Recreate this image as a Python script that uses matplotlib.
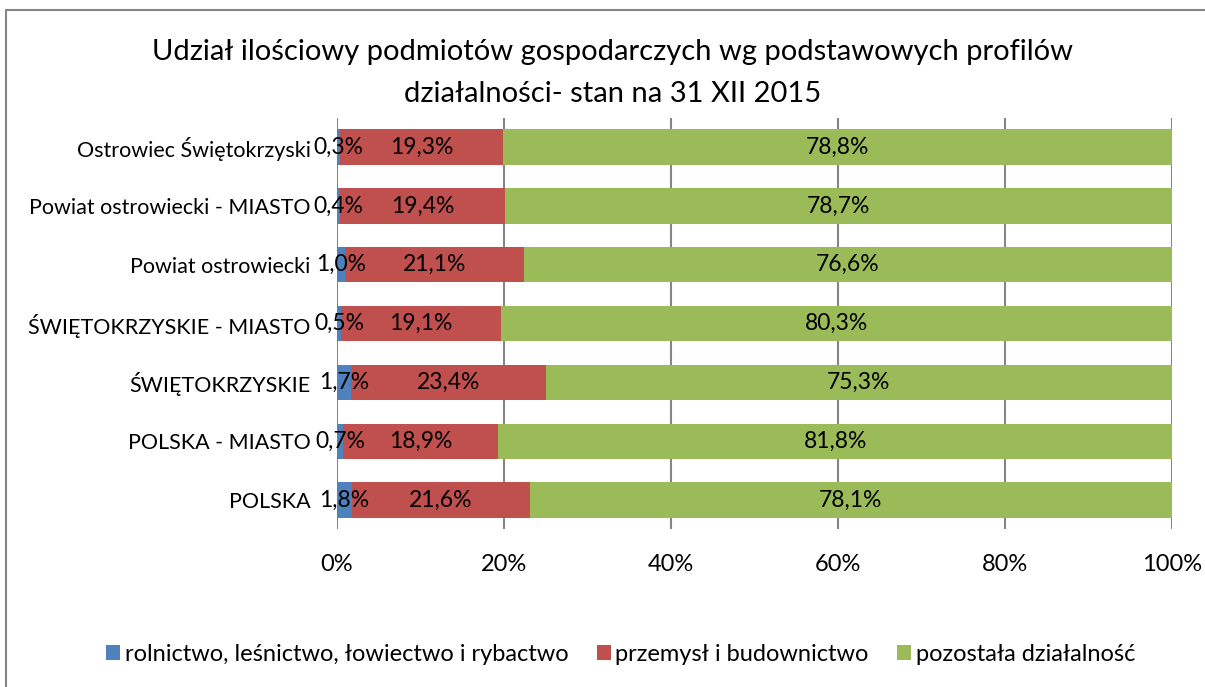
import matplotlib.pyplot as plt
from matplotlib.patches import Rectangle

plt.rcParams["font.family"] = ["Lato", "DejaVu Sans"]

categories = [
    "POLSKA",
    "POLSKA - MIASTO",
    "ŚWIĘTOKRZYSKIE",
    "ŚWIĘTOKRZYSKIE - MIASTO",
    "Powiat ostrowiecki",
    "Powiat ostrowiecki - MIASTO",
    "Ostrowiec Świętokrzyski",
]
rolnictwo = [1.8, 0.7, 1.7, 0.5, 1.0, 0.4, 0.3]
przemysl = [21.6, 18.9, 23.4, 19.1, 21.1, 19.4, 19.3]
pozostala = [78.1, 81.8, 75.3, 80.3, 76.6, 78.7, 78.8]

series_names = [
    "rolnictwo, leśnictwo, łowiectwo i rybactwo",
    "przemysł i budownictwo",
    "pozostała działalność",
]
colors = ["#4F81BD", "#C0504D", "#9BBB59"]

fig = plt.figure(figsize=(12.05, 6.87), dpi=100)
ax = fig.add_axes([0.2797, 0.2294, 0.6929, 0.5994])

# shares are normalised to 100% like an Excel 100% stacked bar
y = list(range(len(categories)))
left = [0.0] * len(categories)
totals = [a + b + c for a, b, c in zip(rolnictwo, przemysl, pozostala)]
for vals, name, col in zip([rolnictwo, przemysl, pozostala], series_names, colors):
    widths = [v / t * 100 for v, t in zip(vals, totals)]
    ax.barh(y, widths, left=left, height=0.6, color=col, label=name, zorder=2)
    for yi, l, w, v in zip(y, left, widths, vals):
        ax.text(l + w / 2, yi, f"{v:.1f}%".replace(".", ","),
                ha="center", va="center", fontsize=16.5, color="black", zorder=3)
    left = [l + w for l, w in zip(left, widths)]

ax.set_xlim(0, 100)
ax.set_ylim(-0.5, len(categories) - 0.5)
ax.set_xticks([0, 20, 40, 60, 80, 100])
ax.set_xticklabels(["0%", "20%", "40%", "60%", "80%", "100%"], fontsize=17)
ax.set_yticks(y)
ax.set_yticklabels(categories, fontsize=15.5)
ax.tick_params(axis="y", length=0, pad=19)
ax.tick_params(axis="x", length=0, pad=18)
ax.grid(axis="x", color="#868686", linewidth=1.5, zorder=0)
for s in ax.spines.values():
    s.set_visible(False)

fig.text(0.508, 0.925, "Udział ilościowy podmiotów gospodarczych wg podstawowych profilów",
         ha="center", va="center", fontsize=21)
fig.text(0.508, 0.863, "działalności- stan na 31 XII 2015",
         ha="center", va="center", fontsize=21)

fig.legend(loc="center", bbox_to_anchor=(0.515, 0.047), ncol=3, frameon=False,
           fontsize=17, handlelength=0.6, handleheight=0.6, handletextpad=0.2,
           columnspacing=1.2)

fig.patches.append(Rectangle((0.005, -0.05), 1.2, 1.035, transform=fig.transFigure,
                             fill=False, edgecolor="#868686", linewidth=1.5))

fig.savefig("out.png", dpi=100)
